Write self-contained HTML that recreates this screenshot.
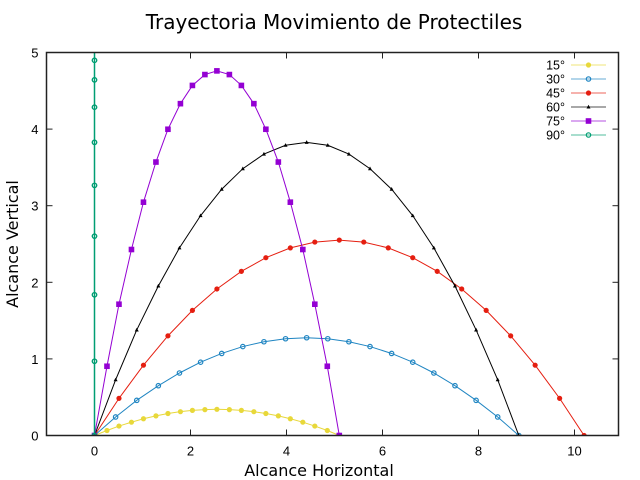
<!DOCTYPE html>
<html><head><meta charset="utf-8"><style>
body{margin:0;background:#fff;}
svg{display:block;font-family:"Liberation Sans","DejaVu Sans",sans-serif;}
</style></head><body>
<svg id="chart" width="640" height="480" viewBox="0 0 640 480" xmlns="http://www.w3.org/2000/svg">
<rect width="640" height="480" fill="#fff"/>
<text x="334" y="29" font-size="20" text-anchor="middle" font-family="DejaVu Sans, sans-serif">Trayectoria Movimiento de Protectiles</text>
<text x="319" y="476" font-size="16" text-anchor="middle" font-family="DejaVu Sans, sans-serif">Alcance Horizontal</text>
<text transform="translate(18,244) rotate(-90)" font-size="16" text-anchor="middle" font-family="DejaVu Sans, sans-serif">Alcance Vertical</text>
<g id="ticks"></g>
<g id="series"></g>
<rect x="46.5" y="52.5" width="572" height="383" fill="none" stroke="#222" stroke-width="1.5"/>
<g id="legend"></g>
</svg>
<script>
const xTicks=[0,2,4,6,8,10];
const yTicks=[0,1,2,3,4,5];
const labels=["15°","30°","45°","60°","75°","90°"];
const colors=["#e8d83a","#1f85c2","#e51e10","#000000","#9400d3","#009e73"];
const markers=["fcircle","ocircle","fcircle","tri","square","ocircle"];
const x15=[0,0.26,0.51,0.77,1.02,1.28,1.53,1.79,2.04,2.30,2.55,2.81,3.06,3.32,3.57,3.83,4.08,4.34,4.59,4.85,5.10];
const y15=[0,0.065,0.123,0.174,0.219,0.256,0.287,0.311,0.328,0.338,0.342,0.338,0.328,0.311,0.287,0.256,0.219,0.174,0.123,0.065,0];
const x30=[0,0.44,0.88,1.33,1.77,2.21,2.65,3.09,3.53,3.98,4.42,4.86,5.30,5.74,6.19,6.63,7.07,7.51,7.95,8.40,8.84];
const y30=[0,0.242,0.459,0.650,0.816,0.957,1.071,1.161,1.224,1.263,1.276,1.263,1.224,1.161,1.071,0.957,0.816,0.650,0.459,0.242,0];
const x45=[0,0.51,1.02,1.53,2.04,2.55,3.06,3.57,4.08,4.59,5.10,5.61,6.12,6.63,7.14,7.65,8.16,8.67,9.18,9.69,10.20];
const y45=[0,0.485,0.918,1.301,1.633,1.913,2.143,2.321,2.449,2.525,2.551,2.525,2.449,2.321,2.143,1.913,1.633,1.301,0.918,0.485,0];
const x60=[0,0.44,0.88,1.33,1.77,2.21,2.65,3.09,3.53,3.98,4.42,4.86,5.30,5.74,6.19,6.63,7.07,7.51,7.95,8.40,8.84];
const y60=[0,0.727,1.378,1.952,2.449,2.870,3.215,3.483,3.674,3.789,3.827,3.789,3.674,3.483,3.215,2.870,2.449,1.952,1.378,0.727,0];
const x75=[0,0.26,0.51,0.77,1.02,1.28,1.53,1.79,2.04,2.30,2.55,2.81,3.06,3.32,3.57,3.83,4.08,4.34,4.59,4.85,5.10];
const y75=[0,0.904,1.714,2.428,3.046,3.570,3.998,4.332,4.570,4.712,4.760,4.712,4.570,4.332,3.998,3.570,3.046,2.428,1.714,0.904,0];
const x90=[0,0,0,0,0,0,0,0,0,0,0,0,0,0,0,0,0,0,0,0,0];
const y90=[0,0.969,1.837,2.602,3.265,3.827,4.286,4.643,4.898,5.051,5.102,5.051,4.898,4.643,4.286,3.827,3.265,2.602,1.837,0.969,0];
const xs=[x15,x30,x45,x60,x75,x90];
const ys=[y15,y30,y45,y60,y75,y90];

const NS="http://www.w3.org/2000/svg";
const L=46.5,R=618.5,T=52.5,B=435.5;
function sx(v){return 94.5+v*48;}
function sy(v){return B-v*(B-T)/5;}
function mk(tag,attrs,parent){const e=document.createElementNS(NS,tag);for(const k in attrs)e.setAttribute(k,attrs[k]);parent.appendChild(e);return e;}
function marker(g,type,x,y,c){
  let m;
  if(type==="fcircle")m=mk("circle",{cx:x,cy:y,r:2.6,fill:c},g);
  else if(type==="ocircle")m=mk("circle",{cx:x,cy:y,r:2.2,fill:"none",stroke:c,"stroke-width":1.2},g);
  else if(type==="tri")m=mk("path",{d:`M${x},${y-2.2}L${x+2},${y+1.5}L${x-2},${y+1.5}Z`,fill:c},g);
  else m=mk("rect",{x:x-2.8,y:y-2.8,width:5.6,height:5.6,fill:c},g);
  return m;
}
const tg=document.getElementById("ticks");
xTicks.forEach(v=>{
  const x=sx(v);
  const t1=mk("line",{x1:x,y1:B,x2:x,y2:B-6,stroke:"#222"},tg);
  
  
  mk("line",{x1:x,y1:T,x2:x,y2:T+6,stroke:"#222"},tg);
  const tx=mk("text",{x:x,y:B+20,"font-size":13,"text-anchor":"middle"},tg);
  tx.textContent=v;
  
  
});
yTicks.forEach(v=>{
  const y=sy(v);
  const t1=mk("line",{x1:L,y1:y,x2:L+6,y2:y,stroke:"#222"},tg);
  
  
  mk("line",{x1:R,y1:y,x2:R-6,y2:y,stroke:"#222"},tg);
  const tx=mk("text",{x:L-8,y:y+5,"font-size":13,"text-anchor":"end"},tg);
  tx.textContent=v;
  
  
});
const sg=document.getElementById("series");
const cp=mk("clipPath",{id:"clip"},mk("defs",{},sg));
mk("rect",{x:L,y:T,width:R-L,height:B-T},cp);
xs.forEach((xa,i)=>{
  const g=mk("g",{"clip-path":"url(#clip)"},sg);
  
  
  const pts=xa.map((v,j)=>sx(v)+","+sy(ys[i][j])).join(" ");
  mk("polyline",{points:pts,fill:"none",stroke:colors[i],"stroke-width":i===5?1.5:1},g);
  xa.forEach((v,j)=>{
    const m=marker(g,markers[i],sx(v),sy(ys[i][j]),colors[i]);
    
    
  });
});
const lg=document.getElementById("legend");
labels.forEach((lab,i)=>{
  const y=65+i*14;
  const g=mk("g",{},lg);
  
  
  const t=mk("text",{x:565,y:y+4.5,"font-size":12.5,"text-anchor":"end"},g);
  t.textContent=lab;
  mk("line",{x1:571,y1:y,x2:606,y2:y,stroke:colors[i],"stroke-width":1.2,"stroke-opacity":0.55},g);
  marker(g,markers[i],588.5,y,colors[i]);
});
</script>
</body></html>
